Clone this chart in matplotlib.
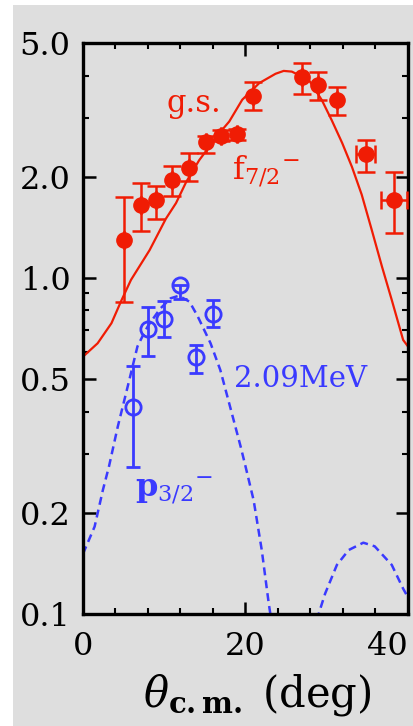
import matplotlib
matplotlib.use("Agg")
import matplotlib.pyplot as plt
from matplotlib.patches import Rectangle

plt.rcParams["font.family"] = ["DejaVu Serif"]
plt.rcParams["mathtext.fontset"] = "dejavuserif"

RED = "#f01c04"
BLUE = "#3a3aff"
BG = "#dedede"

# ground state (f7/2) data
gs_theta = [5.0, 7.2, 9.0, 11.0, 13.0, 15.1, 17.0, 19.0, 20.9, 27.0, 28.9, 31.3, 34.8, 38.3]
gs_xs = [1.30, 1.65, 1.71, 1.95, 2.13, 2.53, 2.65, 2.68, 3.47, 3.96, 3.74, 3.39, 2.34, 1.71]
gs_err_lo = [0.45, 0.27, 0.21, 0.20, 0.19, 0.17, 0.10, 0.10, 0.31, 0.43, 0.35, 0.33, 0.28, 0.35]
gs_err_hi = [0.44, 0.27, 0.17, 0.21, 0.22, 0.12, 0.10, 0.10, 0.37, 0.40, 0.37, 0.31, 0.23, 0.36]
gs_theta_err = [0, 0, 0, 0, 0, 0, 0, 0, 0, 0, 0, 0, 1.2, 1.6]

# 2.09 MeV (p3/2) data
ex_theta = [6.2, 8.0, 10.0, 12.0, 13.9, 16.0]
ex_xs = [0.414, 0.705, 0.757, 0.955, 0.580, 0.780]
ex_err_lo = [0.141, 0.120, 0.091, 0.090, 0.059, 0.066]
ex_err_hi = [0.134, 0.114, 0.095, 0.0, 0.052, 0.080]

# DWBA curves
f72_theta = [0, 1.8, 3.5, 4.7, 5.9, 8.2, 10.2, 11.45, 12.7, 14.3, 16.8, 18.0, 19.6, 21.7,
             23.7, 24.7, 25.7, 27.8, 29.4, 30.6, 31.9, 33.1, 34.3, 35.5, 36.8, 38.0, 39.4, 40]
f72_xs = [0.583, 0.639, 0.733, 0.854, 0.986, 1.21, 1.50, 1.67, 1.93, 2.24, 2.70, 2.92, 3.39, 3.80,
          4.05, 4.13, 4.11, 3.88, 3.38, 2.95, 2.52, 2.14, 1.77, 1.40, 1.08, 0.86, 0.654, 0.625]

p32_theta = [0, 1.43, 2.45, 3.2, 4.28, 5.5, 6.7, 7.34, 8.0, 9.5, 10.8, 11.8, 13.1, 14.1, 15.7,
             16.9, 18.1, 19.4, 20.0, 21.0, 22.0, 22.85, 23.5,
             28.6, 29.0, 29.8, 31.25, 32.7, 34.5, 35.9, 38.0, 39.4, 40]
p32_xs = [0.151, 0.182, 0.234, 0.275, 0.361, 0.475, 0.625, 0.672, 0.72, 0.81, 0.87, 0.885, 0.85,
          0.77, 0.639, 0.532, 0.414, 0.315, 0.275, 0.218, 0.155, 0.108, 0.085,
          0.085, 0.100, 0.115, 0.140, 0.155, 0.163, 0.159, 0.140, 0.119, 0.112]

y_major = [0.1, 0.2, 0.5, 1.0, 2.0, 5.0]
y_major_labels = ["0.1", "0.2", "0.5", "1.0", "2.0", "5.0"]
y_minor = [0.3, 0.4, 0.6, 0.7, 0.8, 0.9, 3.0, 4.0]
x_major = [0, 20, 40]
x_major_labels = ["0", "20", "40"]
x_minor = [4, 8, 12, 16, 24, 28, 32, 36]

W, H = 414, 726
fig = plt.figure(figsize=(W / 100, H / 100), dpi=100)
fig.patch.set_facecolor("white")
fig.patches.append(Rectangle((13 / W, 0), 1, (H - 4.5) / H, transform=fig.transFigure,
                             facecolor=BG, edgecolor="none", zorder=-10))

ax = fig.add_axes([83 / W, 112 / H, 325 / W, 571 / H])
ax.set_facecolor("none")
ax.set_yscale("log")
ax.set_xlim(0, 40)
ax.set_ylim(0.1, 5.0)

ax.plot(f72_theta, f72_xs, color=RED, lw=1.6, zorder=2)
ax.plot(p32_theta, p32_xs, color=BLUE, lw=1.8, dashes=(3.2, 2.0), zorder=2)

ax.errorbar(gs_theta, gs_xs, yerr=[gs_err_lo, gs_err_hi], xerr=gs_theta_err,
            fmt="o", color=RED, ms=11, elinewidth=1.8, capsize=6.5, capthick=1.8, zorder=3)
ax.errorbar(ex_theta, ex_xs, yerr=[ex_err_lo, ex_err_hi],
            fmt="o", mfc="none", mec=BLUE, mew=2.0, color=BLUE, ms=11,
            elinewidth=2.0, capsize=5, capthick=2.0, zorder=3)

ax.text(10.3, 3.12, "g.s.", color=RED, fontsize=22, ha="left", va="baseline")
ax.text(18.4, 1.96, r"$\mathrm{f}_{7/2}{}^{-}$", color=RED, fontsize=23, ha="left", va="baseline")
ax.text(18.6, 0.474, "2.09MeV", color=BLUE, fontsize=21, ha="left", va="baseline")
ax.text(6.4, 0.223, r"$\mathbf{p}_{3/2}{}^{-}$", color=BLUE, fontsize=23, ha="left", va="baseline")

ax.set_yticks(y_major)
ax.set_yticklabels(y_major_labels)
ax.set_yticks(y_minor, minor=True)
ax.set_yticklabels([], minor=True)
ax.set_xticks(x_major)
ax.set_xticklabels(x_major_labels)
ax.set_xticks(x_minor, minor=True)

ax.tick_params(which="both", direction="in", top=True, right=True, labelsize=23)
ax.tick_params(which="major", length=9, width=1.8)
ax.tick_params(which="minor", length=4, width=1.5)
ax.tick_params(axis="y", which="major", pad=9)
ax.tick_params(axis="x", which="major", pad=12)
for lbl in ax.get_xticklabels():
    if lbl.get_text() == "40":
        lbl.set_horizontalalignment("right")
for s in ax.spines.values():
    s.set_linewidth(2.4)

fig.text(0.622, 1 - 706 / H, r"$\theta_{\mathbf{c.m.}}$ (deg)", fontsize=30,
         ha="center", va="baseline")

fig.savefig("out.png", dpi=100, facecolor=fig.get_facecolor())
